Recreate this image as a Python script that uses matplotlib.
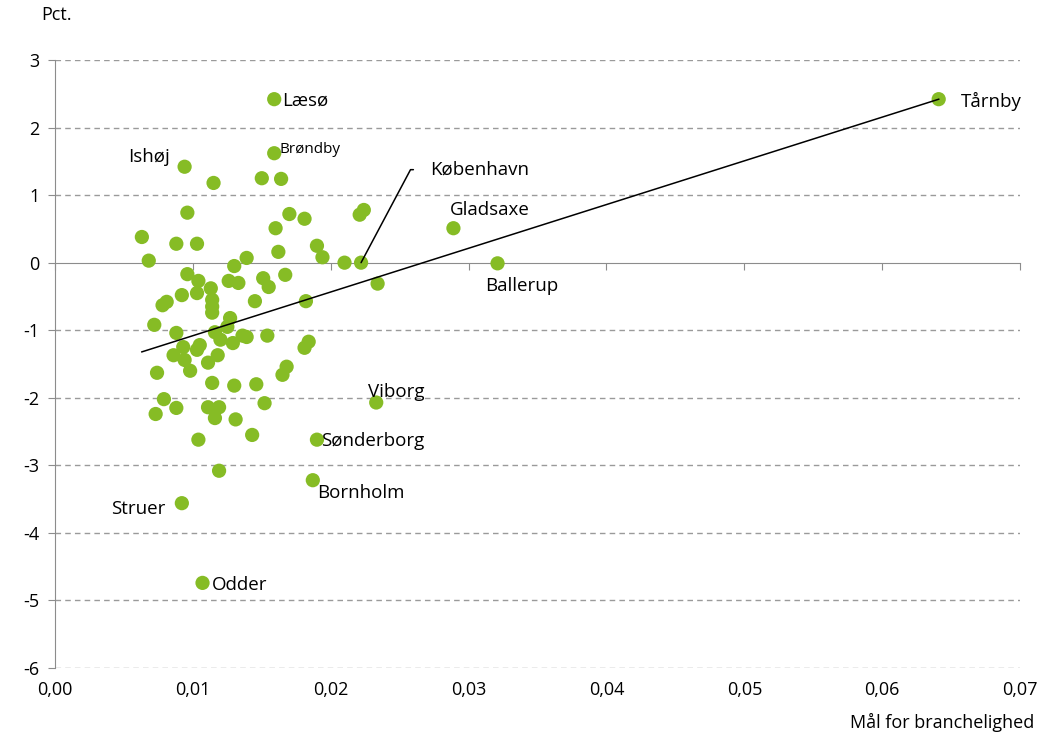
import numpy as np
import matplotlib
matplotlib.use("Agg")
import matplotlib.pyplot as plt
from matplotlib.ticker import FuncFormatter, FixedLocator, MultipleLocator

plt.rcParams['font.family'] = ['Open Sans', 'DejaVu Sans']
plt.rcParams['axes.unicode_minus'] = False

# Mål for branchelighed (x) og vækst i pct. (y)
x_vals = [
    0.0159, 0.0641, 0.0159, 0.0094, 0.0115, 0.0150, 0.0164, 0.0096, 0.0170, 0.0181,
    0.0160, 0.0221, 0.0224, 0.0063, 0.0088, 0.0103, 0.0190, 0.0162, 0.0194, 0.0289,
    0.0068, 0.0130, 0.0139, 0.0210, 0.0222, 0.0321,
    0.0096, 0.0104, 0.0103, 0.0126, 0.0133, 0.0151, 0.0155, 0.0167, 0.0234, 0.0113,
    0.0114, 0.0114, 0.0114, 0.0092, 0.0081, 0.0078, 0.0145, 0.0182, 0.0127, 0.0072,
    0.0088, 0.0116, 0.0125, 0.0120, 0.0129, 0.0136, 0.0139, 0.0154, 0.0184, 0.0181,
    0.0086, 0.0093, 0.0094, 0.0103, 0.0105, 0.0098, 0.0111, 0.0118, 0.0074, 0.0114,
    0.0130, 0.0146, 0.0165, 0.0168,
    0.0079, 0.0073, 0.0088, 0.0111, 0.0119, 0.0116, 0.0131, 0.0152, 0.0143, 0.0104,
    0.0119, 0.0233, 0.0190, 0.0187, 0.0092, 0.0107,
]
y_vals = [
    2.42, 2.42, 1.62, 1.42, 1.18, 1.25, 1.24, 0.74, 0.72, 0.65,
    0.51, 0.71, 0.78, 0.38, 0.28, 0.28, 0.25, 0.16, 0.08, 0.51,
    0.03, -0.05, 0.07, 0.00, 0.00, -0.01,
    -0.17, -0.27, -0.45, -0.27, -0.30, -0.23, -0.36, -0.18, -0.31, -0.38,
    -0.55, -0.65, -0.74, -0.48, -0.58, -0.63, -0.57, -0.57, -0.82, -0.92,
    -1.04, -1.03, -0.95, -1.14, -1.19, -1.08, -1.10, -1.08, -1.17, -1.26,
    -1.37, -1.25, -1.44, -1.29, -1.22, -1.60, -1.48, -1.37, -1.63, -1.78,
    -1.82, -1.80, -1.66, -1.54,
    -2.02, -2.24, -2.15, -2.14, -2.14, -2.30, -2.32, -2.08, -2.55, -2.62,
    -3.08, -2.07, -2.62, -3.22, -3.56, -4.74,
]

# navngivne kommuner
names = ['Tårnby', 'Læsø', 'Brøndby', 'Ishøj', 'København', 'Gladsaxe', 'Ballerup',
         'Viborg', 'Sønderborg', 'Bornholm', 'Struer', 'Odder']
name_x = [0.0641, 0.0159, 0.0159, 0.0094, 0.0222, 0.0289, 0.0321,
          0.0233, 0.0190, 0.0187, 0.0092, 0.0107]
name_y = [2.42, 2.42, 1.62, 1.42, 0.00, 0.51, -0.01,
          -2.07, -2.62, -3.22, -3.56, -4.74]

x_ticks = [0.00, 0.01, 0.02, 0.03, 0.04, 0.05, 0.06, 0.07]

# tendenslinje
trend_slope = 64.7
trend_intercept = -1.728

green = '#86bc25'
grid_col = '#9a9a9a'
axis_col = '#8c8c8c'

fig = plt.figure(figsize=(10.4, 7.37), dpi=100)
ax = fig.add_axes([0.0529, 0.0936, 0.9279, 0.825])

ax.set_xlim(0, 0.07)
ax.set_ylim(-6, 3)

# gitterlinjer
for yv in range(-6, 4):
    if yv != 0:
        ax.axhline(yv, color=grid_col, lw=1, ls=(0, (4, 3)), zorder=0)

ax.scatter(x_vals, y_vals, s=105, color=green, edgecolors='none', zorder=3)

xs = np.array([min(x_vals), max(x_vals)])
ax.plot(xs, trend_intercept + trend_slope * xs, color='black', lw=1.1, zorder=4)

# akser
for s in ['top', 'right']:
    ax.spines[s].set_visible(False)
ax.spines['left'].set_color(axis_col)
ax.spines['bottom'].set_position(('data', 0))
ax.spines['bottom'].set_color(axis_col)

ax.xaxis.set_major_locator(FixedLocator(x_ticks))
ax.tick_params(axis='x', direction='out', length=5, color=axis_col, labelbottom=False)
ax.yaxis.set_major_locator(MultipleLocator(1))
ax.tick_params(axis='y', direction='out', length=5, color=axis_col, labelsize=13, pad=6)

sec = ax.secondary_xaxis(0.0)
sec.spines['bottom'].set_visible(False)
sec.xaxis.set_major_locator(FixedLocator(x_ticks))
sec.xaxis.set_major_formatter(FuncFormatter(lambda v, p: f'{v:.2f}'.replace('.', ',')))
sec.tick_params(axis='x', length=0, labelsize=13, pad=9)

# etiketter
offsets = {
    'Tårnby': (22, -2, 'left', 'center', 13.5),
    'Læsø': (8, -1, 'left', 'center', 13.5),
    'Brøndby': (5, 4, 'left', 'center', 11),
    'Ishøj': (-15, 10, 'right', 'center', 13.5),
    'Gladsaxe': (-4, 9, 'left', 'bottom', 13.5),
    'Ballerup': (-12, -14, 'left', 'top', 13.5),
    'Viborg': (-8, 2, 'left', 'bottom', 13.5),
    'Sønderborg': (4, -1, 'left', 'center', 13.5),
    'Bornholm': (4, -4, 'left', 'top', 13.5),
    'Struer': (-16, -6, 'right', 'center', 13.5),
    'Odder': (9, -2, 'left', 'center', 13.5),
}
for n, xv, yv in zip(names, name_x, name_y):
    if n == 'København':
        ax.annotate(n, xy=(xv, yv), xytext=(69, 93), textcoords='offset pixels',
                    fontsize=13.5, ha='left', va='center',
                    arrowprops=dict(arrowstyle='-', color='black', lw=1.1,
                                    connectionstyle='angle,angleA=0,angleB=62,rad=0',
                                    shrinkA=10, shrinkB=0))
        continue
    dx, dy, ha, va, fs = offsets[n]
    ax.annotate(n, xy=(xv, yv), xytext=(dx, dy), textcoords='offset pixels',
                fontsize=fs, ha=ha, va=va)

fig.text(0.040, 0.980, 'Pct.', fontsize=13, ha='left', va='center')
fig.text(0.994, 0.020, 'Mål for branchelighed', fontsize=13, ha='right', va='center')

fig.savefig('out.png', dpi=100)
